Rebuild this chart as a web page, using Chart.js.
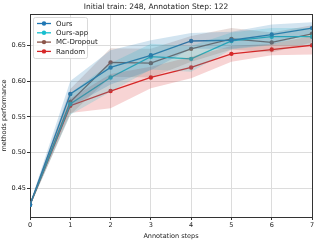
<!DOCTYPE html>
<html>
<head>
<meta charset="utf-8">
<script src="https://cdn.jsdelivr.net/npm/chart.js@4"></script>
<style>
  html, body { margin: 0; padding: 0; background: #fff; }
  #wrap { width: 320px; height: 240px; }
</style>
</head>
<body>
<div id="wrap"><canvas id="myChart" width="320" height="240"></canvas></div>
<script>
// values
var steps = [0, 1, 2, 3, 4, 5, 6, 7];
var yTicks = [0.45, 0.50, 0.55, 0.60, 0.65];

var seriesNames = ['Ours', 'Ours-app', 'MC-Dropout', 'Random'];
var seriesColors = ['#1f77b4', '#17becf', '#8c564b', '#d62728'];

var oursMean    = [0.427, 0.582, 0.619, 0.636, 0.656, 0.657, 0.665, 0.674];
var oursStd     = [0.002, 0.018, 0.024, 0.021, 0.011, 0.012, 0.014, 0.008];
var oursAppMean = [0.427, 0.568, 0.605, 0.634, 0.631, 0.656, 0.662, 0.662];
var oursAppStd  = [0.002, 0.015, 0.020, 0.018, 0.018, 0.012, 0.012, 0.012];
var mcMean      = [0.427, 0.571, 0.626, 0.625, 0.645, 0.659, 0.654, 0.666];
var mcStd       = [0.002, 0.018, 0.020, 0.020, 0.018, 0.015, 0.014, 0.012];
var randomMean  = [0.427, 0.5655, 0.586, 0.605, 0.619, 0.638, 0.644, 0.650];
var randomStd   = [0.002, 0.010, 0.024, 0.015, 0.015, 0.011, 0.008, 0.013];

var means = [oursMean, oursAppMean, mcMean, randomMean];
var stds = [oursStd, oursAppStd, mcStd, randomStd];

function hexA(hex, a) {
    var r = parseInt(hex.substr(1, 2), 16), g = parseInt(hex.substr(3, 2), 16), b = parseInt(hex.substr(5, 2), 16);
    return 'rgba(' + r + ',' + g + ',' + b + ',' + a + ')';
}
function pts(arr) {
    return steps.map(function(s, i) { return {x: s, y: arr[i]}; });
}

var datasets = [];
// std bands first (drawn underneath)
for (var k = 0; k < means.length; k++) {
    var up = means[k].map(function(v, i) { return v + stds[k][i]; });
    var lo = means[k].map(function(v, i) { return v - stds[k][i]; });
    datasets.push({ label: '_band', data: pts(up), borderWidth: 0, pointRadius: 0,
        fill: '+1', backgroundColor: hexA(seriesColors[k], 0.2), tension: 0 });
    datasets.push({ label: '_band', data: pts(lo), borderWidth: 0, pointRadius: 0,
        fill: false, backgroundColor: hexA(seriesColors[k], 0.2), tension: 0 });
}
for (var k = 0; k < means.length; k++) {
    datasets.push({ label: seriesNames[k], data: pts(means[k]), borderColor: seriesColors[k],
        backgroundColor: seriesColors[k], borderWidth: 1.3, pointRadius: 2.2,
        pointBorderWidth: 0, fill: false, tension: 0 });
}

// legend box in the upper left corner of the plot, like matplotlib
var boxLegend = {
    id: 'boxLegend',
    afterDatasetsDraw: function(chart) {
        var ctx = chart.ctx, a = chart.chartArea;
        var x = a.left + 3, y = a.top + 3, w = 54, h = 41;
        ctx.save();
        ctx.fillStyle = 'rgba(255,255,255,0.85)';
        ctx.strokeStyle = '#d0d0d0';
        ctx.lineWidth = 0.8;
        ctx.beginPath();
        ctx.roundRect(x + 0.5, y + 0.5, w, h, 2);
        ctx.fill();
        ctx.stroke();
        ctx.font = '7px "DejaVu Sans"';
        ctx.textBaseline = 'middle';
        for (var i = 0; i < seriesNames.length; i++) {
            var yy = y + 6.5 + i * 9.3;
            ctx.strokeStyle = seriesColors[i];
            ctx.fillStyle = seriesColors[i];
            ctx.lineWidth = 1.3;
            ctx.beginPath();
            ctx.moveTo(x + 4, yy);
            ctx.lineTo(x + 18, yy);
            ctx.stroke();
            ctx.beginPath();
            ctx.arc(x + 11, yy, 2.2, 0, Math.PI * 2);
            ctx.fill();
            ctx.fillStyle = '#222';
            ctx.fillText(seriesNames[i], x + 23, yy + 0.5);
        }
        ctx.restore();
    }
};

var ctx = document.getElementById('myChart').getContext('2d');
var myChart = new Chart(ctx, {
    type: 'line',
    data: { datasets: datasets },
    plugins: [boxLegend],
    options: {
        responsive: false,
        animation: false,
        layout: { padding: { left: 0, right: 8, top: 0, bottom: 0 } },
        plugins: {
            legend: { display: false },
            tooltip: { enabled: false },
            title: {
                display: true,
                text: 'Initial train: 248, Annotation Step: 122',
                color: '#222',
                font: { family: 'DejaVu Sans', size: 7.5, weight: 'normal' },
                padding: { top: 3, bottom: 2 }
            }
        },
        scales: {
            x: {
                type: 'linear', min: 0, max: 7,
                ticks: { stepSize: 1, color: '#222', font: { family: 'DejaVu Sans', size: 6.5 }, padding: 1 },
                grid: { color: '#dcdcdc', lineWidth: 1, tickLength: 3, tickColor: '#333' },
                border: { color: '#333', width: 1 },
                title: { display: true, text: 'Annotation steps', color: '#222',
                    font: { family: 'DejaVu Sans', size: 6.5 }, padding: { top: 1, bottom: 0 } },
                afterFit: function(s) { s.height = 23; }
            },
            y: {
                type: 'linear', min: 0.41, max: 0.6937,
                afterBuildTicks: function(s) { s.ticks = yTicks.map(function(v) { return {value: v}; }); },
                ticks: { color: '#222', font: { family: 'DejaVu Sans', size: 6.5 }, padding: 1,
                    callback: function(v) { return Number(v).toFixed(2); } },
                grid: { color: '#dcdcdc', lineWidth: 1, tickLength: 3, tickColor: '#333' },
                border: { color: '#333', width: 1 },
                title: { display: true, text: 'methods performance', color: '#222',
                    font: { family: 'DejaVu Sans', size: 6.5 }, padding: { top: 0, bottom: 1 } },
                afterFit: function(s) { s.width = 30; }
            },
            x2: { position: 'top', type: 'linear', min: 0, max: 7, display: true,
                ticks: { display: false }, grid: { display: false },
                border: { color: '#333', width: 1 }, afterFit: function(s) { s.height = 0; } },
            y2: { position: 'right', type: 'linear', display: true,
                ticks: { display: false }, grid: { display: false },
                border: { color: '#333', width: 1 }, afterFit: function(s) { s.width = 0; } }
        }
    }
});
</script>
</body>
</html>
